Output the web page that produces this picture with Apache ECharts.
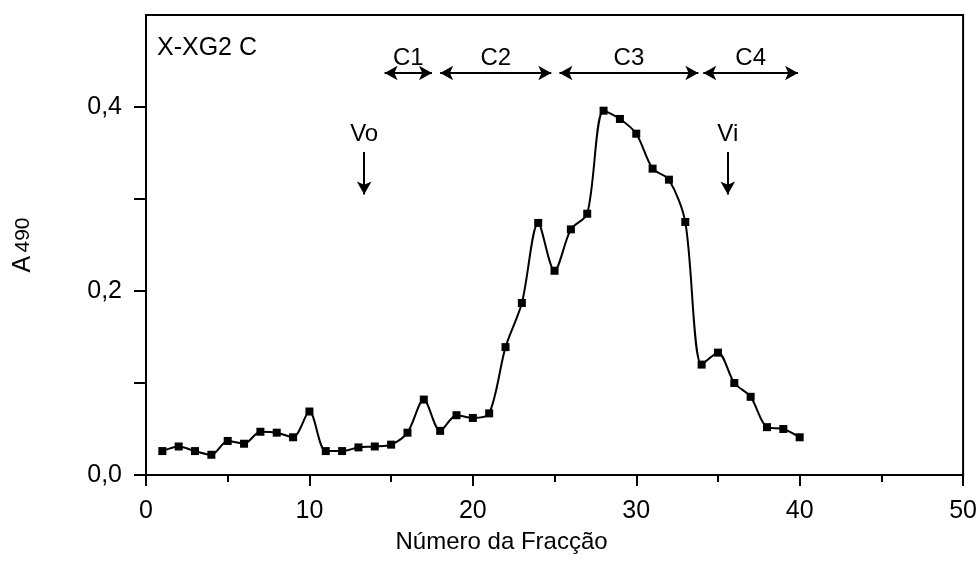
<!DOCTYPE html>
<html>
<head>
<meta charset="utf-8">
<script src="https://cdn.jsdelivr.net/npm/echarts@6/dist/echarts.min.js"></script>
<style>
  html, body { margin: 0; padding: 0; background: #fff; }
  #chart { width: 980px; height: 573px; }
</style>
</head>
<body>
<div id="chart"></div>
<script>
// Fraction numbers and absorbance at 490 nm
const fractions = [1,2,3,4,5,6,7,8,9,10,11,12,13,14,15,16,17,18,19,20,21,22,23,24,25,26,27,28,29,30,31,32,33,34,35,36,37,38,39,40];
const absorbance = [0.026,0.031,0.026,0.022,0.037,0.034,0.047,0.046,0.041,0.069,
                    0.026,0.026,0.030,0.031,0.033,0.046,0.082,0.048,0.065,0.062,
                    0.067,0.139,0.187,0.274,0.222,0.267,0.284,0.396,0.387,0.371,
                    0.333,0.321,0.275,0.120,0.133,0.100,0.085,0.052,0.050,0.041];

// Pooled peak ranges (start, end fraction) drawn as double arrows
const poolNames = ['C1', 'C2', 'C3', 'C4'];
const poolStart = [14.6, 18.0, 25.3, 34.1];
const poolEnd   = [17.5, 24.8, 33.8, 39.9];
const poolLevel = 0.437;

// Void / included volume markers
const volNames = ['Vo', 'Vi'];
const volFraction = [13.35, 35.6];
const volTop = 0.351;
const volBottom = 0.305;

const FONT = '"Liberation Sans", Arial, sans-serif';

const poolLines = poolNames.map((n, i) => [
  { coord: [poolStart[i], poolLevel], name: n },
  { coord: [poolEnd[i], poolLevel] }
]);
const volLines = volNames.map((n, i) => [
  { coord: [volFraction[i], volTop], name: n, symbol: 'none' },
  { coord: [volFraction[i], volBottom], symbol: 'arrow' }
]);

const chart = echarts.init(document.getElementById('chart'));
chart.setOption({
  animation: false,
  backgroundColor: '#fff',
  title: {
    text: 'X-XG2 C',
    left: 152, top: 31,
    textStyle: { fontFamily: FONT, fontSize: 25, fontWeight: 'normal', color: '#000' }
  },
  grid: {
    left: 146, right: 14, top: 15, bottom: 98,
    show: true, borderColor: '#000', borderWidth: 2
  },
  xAxis: {
    type: 'value', min: 0, max: 50, interval: 10,
    name: 'Número da Fracção', nameLocation: 'middle', nameGap: 55,
    nameTextStyle: { fontFamily: FONT, fontSize: 24, color: '#000', padding: [0, 106, 0, 0] },
    axisLine: { lineStyle: { color: '#000', width: 2 } },
    axisTick: { show: true, length: 11, lineStyle: { color: '#000', width: 2 } },
    minorTick: { show: true, splitNumber: 2, length: 7, lineStyle: { color: '#000', width: 2 } },
    axisLabel: { fontFamily: FONT, fontSize: 25, color: '#000', margin: 24 },
    splitLine: { show: false }
  },
  yAxis: {
    type: 'value', min: 0, max: 0.5, interval: 0.1,
    name: '{a|A} {n|490}', nameLocation: 'middle', nameGap: 110, nameRotate: 90,
    nameTextStyle: {
      color: '#000',
      rich: {
        a: { fontFamily: FONT, fontSize: 25, color: '#000' },
        n: { fontFamily: FONT, fontSize: 21, color: '#000' }
      }
    },
    axisLine: { lineStyle: { color: '#000', width: 2 } },
    axisTick: { show: true, length: 12, lineStyle: { color: '#000', width: 2 } },
    axisLabel: {
      fontFamily: FONT, fontSize: 25, color: '#000', margin: 24,
      showMaxLabel: false,
      formatter: v => {
        const k = Math.round(v * 10);
        return k % 2 === 0 ? (k / 10).toFixed(1).replace('.', ',') : '';
      }
    },
    splitLine: { show: false }
  },
  series: [
    {
      type: 'line',
      data: fractions.map((f, i) => [f, absorbance[i]]),
      smooth: 0.3,
      symbol: 'rect', symbolSize: 8,
      itemStyle: { color: '#000' },
      lineStyle: { color: '#000', width: 2 },
      markLine: {
        silent: true,
        symbol: ['arrow', 'arrow'],
        symbolSize: [11, 13],
        lineStyle: { color: '#000', width: 2, type: 'solid' },
        label: {
          show: true, position: 'insideMiddleTop', distance: 3,
          formatter: p => p.name,
          fontFamily: FONT, fontSize: 24, color: '#000'
        },
        data: poolLines
      }
    },
    {
      type: 'line',
      data: [],
      markLine: {
        silent: true,
        symbol: ['none', 'arrow'],
        symbolSize: [11, 13],
        lineStyle: { color: '#000', width: 2, type: 'solid' },
        label: {
          show: true, position: 'start', distance: 6,
          formatter: p => p.name,
          fontFamily: FONT, fontSize: 24, color: '#000'
        },
        data: volLines
      }
    }
  ]
});
</script>
</body>
</html>
